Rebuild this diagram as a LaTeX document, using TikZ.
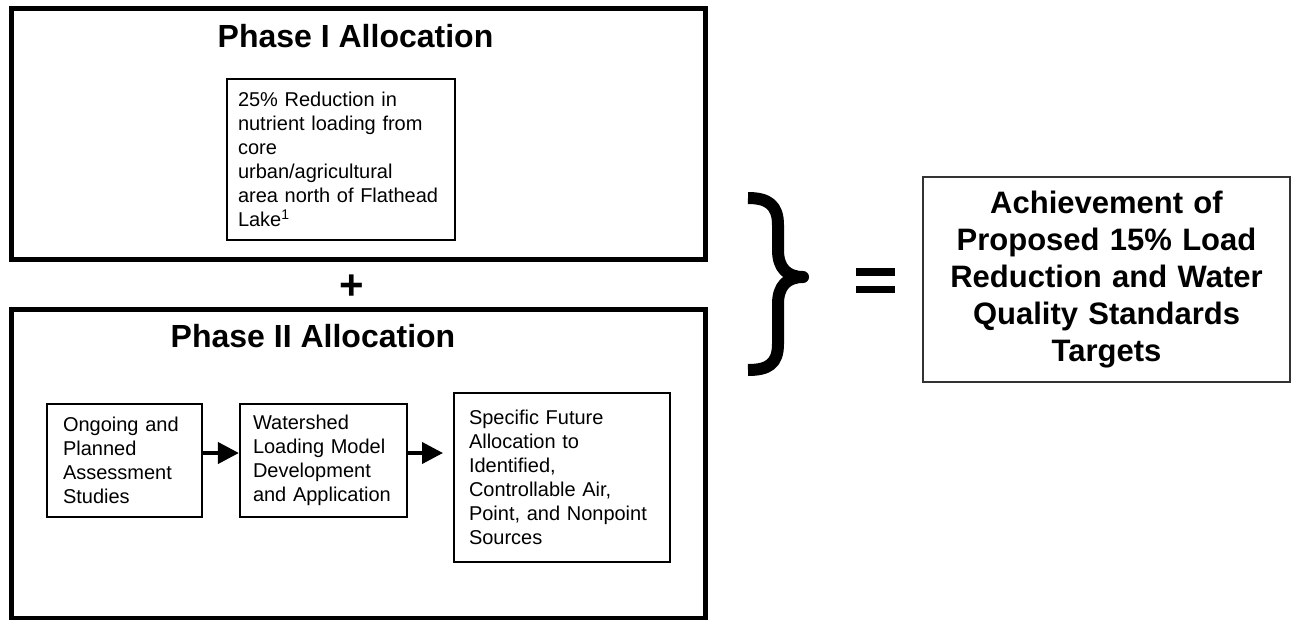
\documentclass[tikz,border=0pt]{standalone}
\usepackage{fontspec}
\setmainfont{Liberation Sans}
\usetikzlibrary{arrows.meta}
\newcommand\boxtextfont{\hyphenpenalty=10000\relax\fontsize{20}{24}\selectfont}
\begin{document}
\begin{tikzpicture}[x=1pt,y=-1pt,
  phasebox/.style={draw, line width=5pt, inner sep=0pt},
  txtbox/.style={draw, line width=2.2pt, align=left, font=\boxtextfont, inner ysep=0pt},
  ttl/.style={font=\bfseries\fontsize{32}{37}\selectfont, inner sep=0pt, anchor=base},
  flow/.style={line width=4pt, -{Triangle[length=21pt,width=21pt]}},
  bracestroke/.style={line width=12pt, line cap=butt, line join=round}]
\useasboundingbox (0,0) rectangle (1296,619);
% phase containers
\node[phasebox, minimum width=694pt, minimum height=251pt] (p1) at (358,134) {};
\node[phasebox, minimum width=694pt, minimum height=309pt] (p2) at (358,464) {};
\node[ttl] (t1) at (355.5,47) {Phase I Allocation};
\node[ttl] (t2) at (313,347) {Phase II Allocation};
\node[font=\bfseries\fontsize{42}{42}\selectfont, inner sep=0pt] (plus) at (352,287) {+};
% inner boxes
\node[txtbox, text width=206pt, inner xsep=11pt, minimum height=161pt] (n1) at (341,159.5)
  {25\% Reduction in\\nutrient loading from\\core\\urban/agricultural\\area north of Flathead\\Lake\textsuperscript{1}};
\node[txtbox, text width=123pt, inner xsep=16pt, minimum height=113pt] (A) at (124.5,460.5)
  {Ongoing and\\Planned\\Assessment\\Studies};
\node[txtbox, text width=141pt, inner xsep=13pt, minimum height=113pt] (B) at (323.5,460.5)
  {Watershed\\Loading Model\\Development\\and Application};
\node[txtbox, text width=186pt, inner xsep=15pt, minimum height=169pt] (C) at (562,477.5)
  {Specific Future\\Allocation to\\Identified,\\Controllable Air,\\Point, and Nonpoint\\Sources};
\coordinate (e2) at (443,453);
\draw[flow] ([yshift=7.5pt]A.east) -- ([yshift=7.5pt]B.west);
\draw[flow] ([yshift=7.5pt]B.east) -- (e2);
% brace
\draw[bracestroke] (748,198) .. controls (768,198) and (778,205) .. (778,225) -- (778,250)
  .. controls (778,268) and (787,277) .. (803,277)
  .. controls (787,277) and (778,286) .. (778,304) -- (778,344)
  .. controls (778,364) and (768,370) .. (748,370);
% equals
\fill (856,268) rectangle (895,276);
\fill (856,286) rectangle (895,293);
% result
\node[draw=black!80, line width=1.5pt, text width=347pt, inner xsep=10pt, minimum height=205pt,
  align=center, font=\bfseries\fontsize{31}{37}\selectfont] (R) at (1106.5,279.5)
  {Achievement of\\Proposed 15\% Load\\Reduction and Water\\Quality Standards\\Targets};
\end{tikzpicture}
\end{document}
